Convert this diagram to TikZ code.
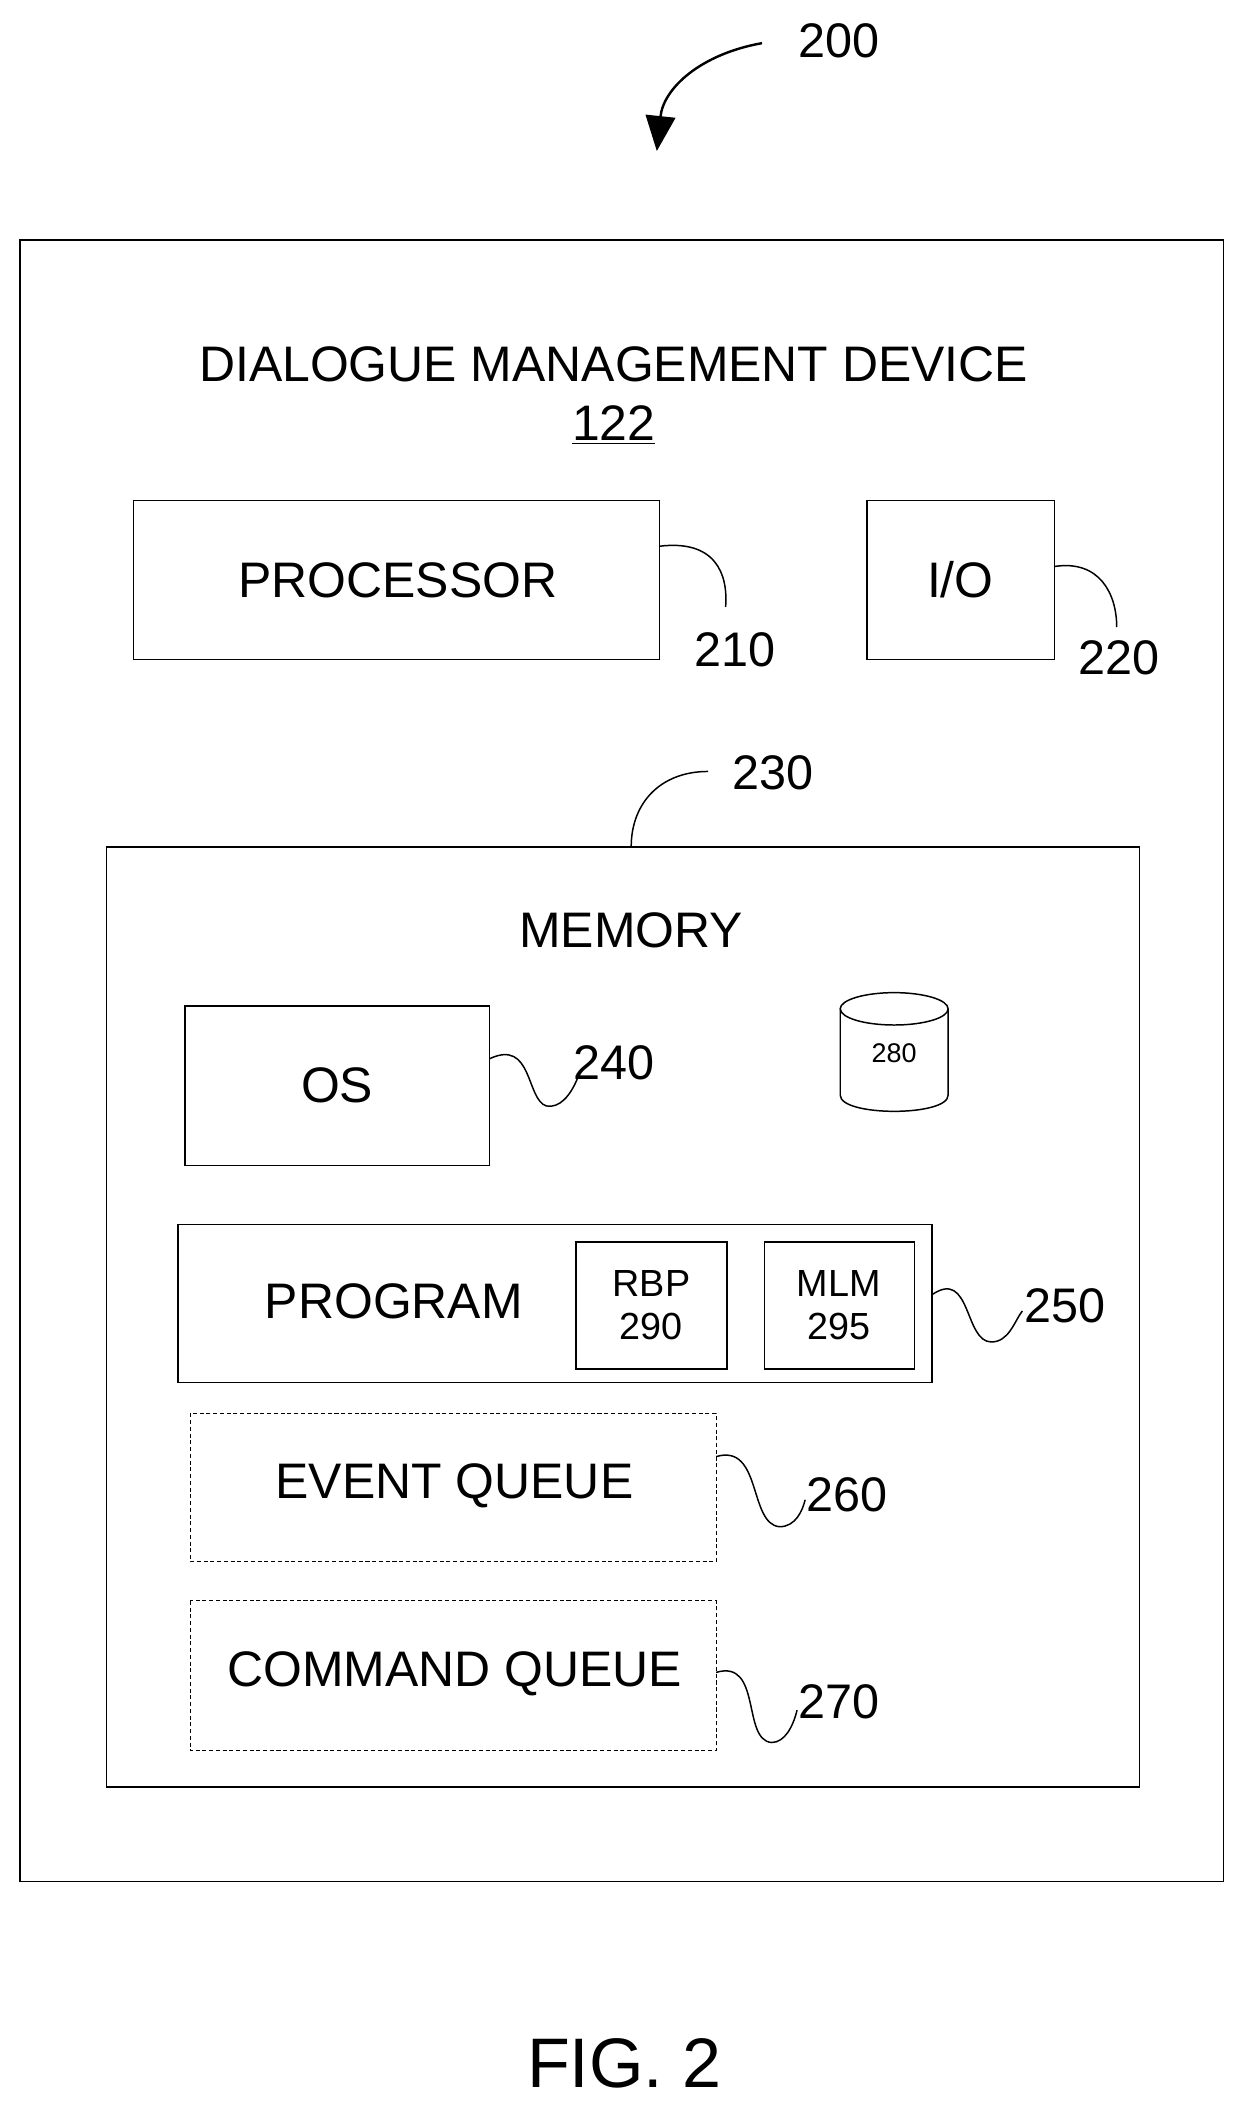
\documentclass[tikz,border=0pt]{standalone}
\usepackage{fontspec}
\setmainfont{Liberation Sans}
\usetikzlibrary{arrows.meta}
\begin{document}
\begin{tikzpicture}[x=1pt,y=-1pt,line width=1.1pt,
 box/.style={draw,rectangle},
 dbox/.style={draw,rectangle,dash pattern=on 3pt off 2pt,line width=0.8pt},
 t/.style={font=\fontsize{37}{40}\selectfont},
 lab/.style={font=\fontsize{36}{40}\selectfont},
 sm/.style={font=\fontsize{28}{32}\selectfont,align=center}]
\useasboundingbox (0,0) rectangle (920,1563);
\draw[box] (15,178) rectangle (907,1395);
\node[t] (title) at (455,270) {DIALOGUE MANAGEMENT DEVICE};
\node[t] (n122) at (455,315) {\underline{122}};
\draw[box] (99,371) rectangle (489,489);
\node[t] (proc) at (295,430) {PROCESSOR};
\node[lab] (l210) at (545,482) {210};
\draw (489,405) .. controls (530,400) and (540,425) .. (538,450);
\draw[box] (643,371) rectangle (782,489);
\node[t] (io) at (712,430) {I/O};
\node[lab] (l220) at (830,488) {220};
\draw (782,420) .. controls (815,415) and (828,440) .. (828,465);
\node[lab] (l230) at (573,573) {230};
\draw (468,628) .. controls (468,595) and (490,572) .. (525,572);
\draw[box] (79,628) rectangle (845,1325);
\node[t] (mem) at (468,690) {MEMORY};
\draw[box] (137,746) rectangle (363,864);
\node[t] (os) at (250,805) {OS};
\node[lab] (l240) at (455,788) {240};
\draw (363,785) .. controls (395,770) and (390,815) .. (405,820) .. controls (415,822) and (423,812) .. (428,800);
% cylinder
\draw (623,748) -- (623,812) .. controls (623,828) and (703,828) .. (703,812) -- (703,748);
\draw (663,748) ellipse[x radius=40,y radius=12];
\node[font=\fontsize{20}{22}\selectfont] (c280) at (663,781) {280};
\draw[box] (132,908) rectangle (691,1025);
\node[t] (prog) at (292,965) {PROGRAM};
\draw[box] (427,921) rectangle (539,1015);
\node[sm] (rbp) at (483,968) {RBP\\290};
\draw[box] (567,921) rectangle (678,1015);
\node[sm] (mlm) at (622,968) {MLM\\295};
\node[lab] (l250) at (790,968) {250};
\draw (691,960) .. controls (720,940) and (715,995) .. (735,995) .. controls (748,995) and (752,980) .. (758,972);
\draw[dbox] (141,1048) rectangle (531,1158);
\node[t] (eq) at (337,1102) {EVENT QUEUE};
\node[lab] (l260) at (628,1108) {260};
\draw (531,1080) .. controls (565,1070) and (555,1130) .. (578,1132) .. controls (590,1132) and (595,1120) .. (597,1112);
\draw[dbox] (141,1187) rectangle (531,1298);
\node[t] (cq) at (337,1241) {COMMAND QUEUE};
\node[lab] (l270) at (622,1262) {270};
\draw (531,1240) .. controls (565,1230) and (550,1290) .. (572,1292) .. controls (582,1292) and (588,1280) .. (591,1268);
\node[lab] (l200) at (622,30) {200};
\draw[line width=1.8pt,-{Triangle[length=26pt,width=22pt]}] (565,32) .. controls (520,40) and (492,65) .. (487,112);
\node[font=\fontsize{52}{58}\selectfont] (fig) at (463,1530) {FIG. 2};
\end{tikzpicture}
\end{document}
